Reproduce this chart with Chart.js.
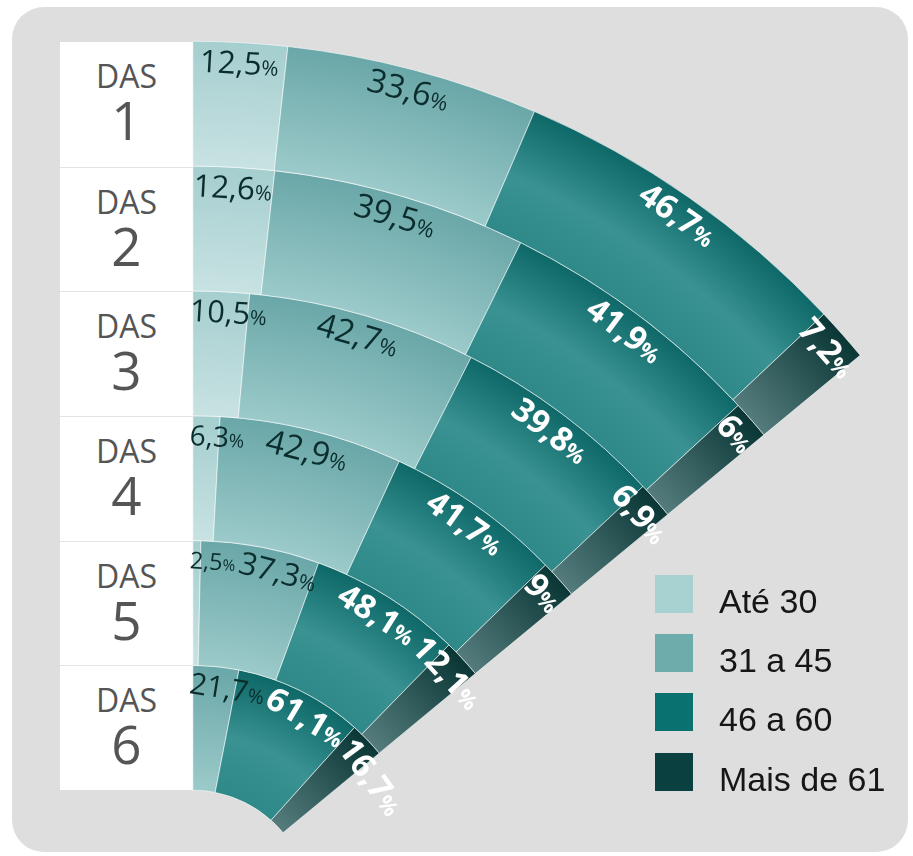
<!DOCTYPE html>
<html>
<head>
<meta charset="utf-8">
<script src="https://cdn.jsdelivr.net/npm/chart.js@4/dist/chart.umd.min.js"></script>
<style>
html,body{margin:0;padding:0;background:#ffffff;overflow:hidden;}
#wrap{position:relative;width:913px;height:856px;overflow:hidden;}
#bg{position:absolute;left:12px;top:7px;width:896px;height:845px;background:#dedede;border-radius:32px;}
#panel{position:absolute;left:60px;top:42px;width:133px;height:748px;background:#ffffff;}
.row{position:absolute;left:0;width:133px;height:125px;box-sizing:border-box;}
.row.sep{border-top:1px solid #e4e4e4;}
.das{position:absolute;left:0;width:133px;text-align:center;font-family:'Open Sans';color:#555555;font-size:32px;line-height:32px;}
.num{position:absolute;left:0;width:133px;text-align:center;font-family:'Open Sans';color:#555555;font-size:53px;line-height:53px;}
#cv{position:absolute;left:0;top:0;}
.lg-box{position:absolute;left:655px;width:38px;height:38px;}
.lg-txt{position:absolute;left:719px;font-family:'Liberation Sans',Arial,sans-serif;font-size:34px;line-height:34px;color:#161616;white-space:nowrap;}
</style>
</head>
<body>
<div id="wrap">
  <div id="bg"></div>
  <div id="panel"></div>
  <canvas id="cv" width="913" height="856"></canvas>
  <div id="legend"></div>
</div>
<script>
// ---- data ----
const categories = ['DAS 1', 'DAS 2', 'DAS 3', 'DAS 4', 'DAS 5', 'DAS 6'];
const ageGroups = ['Até 30', '31 a 45', '46 a 60', 'Mais de 61'];
const ate30    = [12.5, 12.6, 10.5, 6.3, 2.5, 0];
const de31a45  = [33.6, 39.5, 42.7, 42.9, 37.3, 21.7];
const de46a60  = [46.7, 41.9, 39.8, 41.7, 48.1, 61.1];
const mais61   = [7.2, 6, 6.9, 9, 12.1, 16.7];
const series = [ate30, de31a45, de46a60, mais61];

// ---- styling ----
const legendColors = ['#a8d1d2', '#6eacac', '#0a7171', '#0a4040'];
const gradStops = [
  [[0, '#c8e2e2'], [1, '#a5cecf']],
  [[0, '#9ccaca'], [1, '#6aa7a8']],
  [[0, '#2f8989'], [0.45, '#3a9292'], [1, '#0e6868']],
  [[0, '#557c7c'], [1, '#0a3636']]
];
const labelColors = ['#0c2d2d', '#0c2d2d', '#ffffff', '#ffffff'];
const labelBold = [false, false, true, true];
const CENTER_X = 193, CENTER_Y = 907, OUTER = 866, INNER = 117, SWEEP = 50.4;

// ---- HTML side panel (DAS labels) ----
const panel = document.getElementById('panel');
const rowH = 748 / categories.length;
categories.forEach((c, i) => {
  const parts = c.split(' ');
  const row = document.createElement('div');
  row.className = 'row' + (i > 0 ? ' sep' : '');
  row.style.top = (i * rowH) + 'px';
  row.style.height = rowH + 'px';
  const d = document.createElement('div');
  d.className = 'das'; d.style.top = '18px'; d.textContent = parts[0];
  const n = document.createElement('div');
  n.className = 'num'; n.style.top = '51px'; n.textContent = parts[1];
  row.appendChild(d); row.appendChild(n);
  panel.appendChild(row);
});

// ---- legend ----
const legend = document.getElementById('legend');
const lgTops = [575, 634, 693, 753];
ageGroups.forEach((g, k) => {
  const b = document.createElement('div');
  b.className = 'lg-box'; b.style.top = lgTops[k] + 'px'; b.style.background = legendColors[k];
  const t = document.createElement('div');
  t.className = 'lg-txt'; t.style.top = (lgTops[k] + 9) + 'px'; t.textContent = g;
  legend.appendChild(b); legend.appendChild(t);
});

// ---- chart ----
function segColor(c) {
  const j = c.dataIndex;
  if (c.type !== 'data') return legendColors[j] || legendColors[0];
  const chart = c.chart, ca = chart.chartArea;
  const ctrl = chart.getDatasetMeta(c.datasetIndex).controller;
  if (!ca || !ctrl || !ctrl.outerRadius) return legendColors[j];
  const cx = (ca.left + ca.right) / 2 + (ctrl.offsetX || 0);
  const cy = (ca.top + ca.bottom) / 2 + (ctrl.offsetY || 0);
  const g = chart.ctx.createRadialGradient(cx, cy, ctrl.innerRadius, cx, cy, ctrl.outerRadius);
  gradStops[j].forEach(s => g.addColorStop(s[0], s[1]));
  return g;
}

const datasets = categories.map((c, i) => ({
  label: c,
  data: series.map(s => s[i]),
  backgroundColor: segColor,
  borderColor: 'rgba(255,255,255,0.55)',
  borderWidth: 1,
  clip: false
}));

function fmt(v) { return String(v).replace('.', ','); }

const labelPlugin = {
  id: 'arcLabels',
  afterDatasetsDraw(chart) {
    const ctx = chart.ctx;
    chart.data.datasets.forEach((ds, i) => {
      const meta = chart.getDatasetMeta(i);
      const fanStart = meta.data[0].startAngle;
      let prevRight = -Infinity;
      meta.data.forEach((arc, j) => {
        const v = ds.data[j];
        if (!v) return;
        const p = arc.getProps(['x', 'y', 'startAngle', 'endAngle', 'outerRadius'], true);
        const r = p.outerRadius - 20;
        const L = r * (p.endAngle - p.startAngle);
        let fs;
        if (labelBold[j]) fs = 33;
        else fs = L > 120 ? 33 : 20 + 11.5 * (1 - Math.exp(-L / 22));
        const ps = fs * 0.66;
        const w8 = labelBold[j] ? 'bold ' : '';
        const f1 = w8 + fs.toFixed(1) + 'px "Open Sans"';
        const f2 = w8 + ps.toFixed(1) + 'px "Open Sans"';
        ctx.save();
        ctx.font = f1; const w1 = ctx.measureText(fmt(v)).width;
        ctx.font = f2; const w2 = ctx.measureText('%').width;
        const total = w1 + w2;
        const mid = (p.startAngle + p.endAngle) / 2;
        let s = r * (mid - fanStart);
        if (s - total / 2 < -3) s = total / 2 - 3;
        if (s - total / 2 < prevRight + 4) s = prevRight + 4 + total / 2;
        prevRight = s + total / 2;
        const a = fanStart + s / r;
        ctx.translate(p.x + r * Math.cos(a), p.y + r * Math.sin(a));
        ctx.rotate(a + Math.PI / 2);
        ctx.fillStyle = labelColors[j];
        ctx.textBaseline = 'alphabetic';
        ctx.textAlign = 'left';
        const by = fs * 0.36;
        ctx.font = f1; ctx.fillText(fmt(v), -total / 2, by);
        ctx.font = f2; ctx.fillText('%', -total / 2 + w1, by);
        ctx.restore();
      });
    });
  }
};

const cv = document.getElementById('cv');
const chart = new Chart(cv, {
  type: 'doughnut',
  data: { labels: ageGroups, datasets },
  options: {
    responsive: false,
    animation: false,
    events: [],
    rotation: 0,
    circumference: SWEEP,
    radius: OUTER,
    cutout: (INNER / OUTER * 100) + '%',
    layout: { padding: 0 },
    plugins: { legend: { display: false }, tooltip: { enabled: false } }
  },
  plugins: [labelPlugin]
});

const a0 = chart.getDatasetMeta(0).data[0];
cv.style.left = (CENTER_X - a0.x) + 'px';
cv.style.top = (CENTER_Y - a0.y) + 'px';
</script>
</body>
</html>
